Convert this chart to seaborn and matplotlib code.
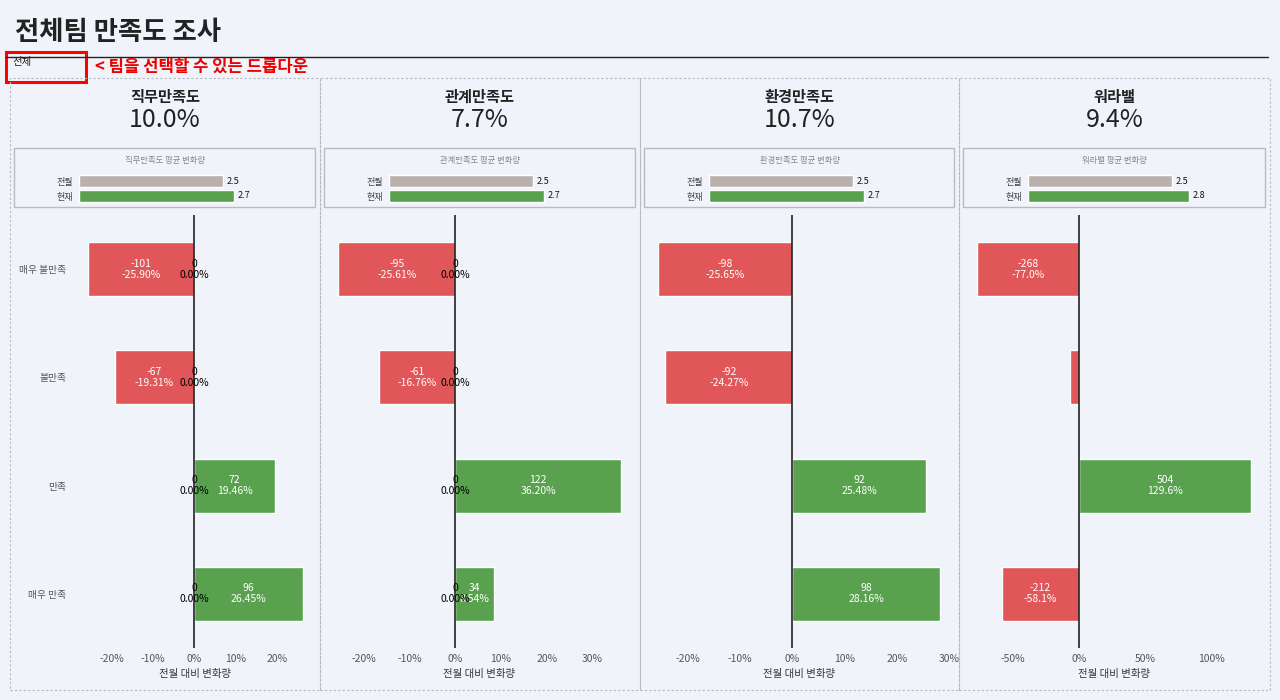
import matplotlib
matplotlib.use('Agg')
import matplotlib.pyplot as plt
import matplotlib.ticker as mticker
from matplotlib.patches import Rectangle
from matplotlib.lines import Line2D
import pandas as pd
import seaborn as sns

sns.set_style('white')
plt.rcParams['font.family'] = ['Noto Sans CJK KR', 'DejaVu Sans']
plt.rcParams['axes.unicode_minus'] = False

W, H = 1280, 700
bg = '#F0F4FA'
red = '#E15759'
green = '#59A14F'
gray = '#BAB0AC'

# Data
panel_titles = ['직무만족도', '관계만족도', '환경만족도', '워라밸']
panel_rates = [10.0, 7.7, 10.7, 9.4]
prev_avg = [2.5, 2.5, 2.5, 2.5]
cur_avg = [2.7, 2.7, 2.7, 2.8]
levels = ['매우 불만족', '불만족', '만족', '매우 만족']

job_cnt = [-101, -67, 72, 96]
job_pct = [-25.90, -19.31, 19.46, 26.45]
rel_cnt = [-95, -61, 122, 34]
rel_pct = [-25.61, -16.76, 36.20, 8.54]
env_cnt = [-98, -92, 92, 98]
env_pct = [-25.65, -24.27, 25.48, 28.16]
wlb_cnt = [-268, -24, 504, -212]
wlb_pct = [-77.0, -6.8, 129.6, -58.1]

counts = [job_cnt, rel_cnt, env_cnt, wlb_cnt]
pcts = [job_pct, rel_pct, env_pct, wlb_pct]
show_zero = [True, True, False, False]
pct_digits = [2, 2, 2, 1]
tick_step = [10, 10, 10, 50]


def fx(x):
    return x / W


def fy(y):
    return 1 - y / H


def box(l, t, r, b):
    return [l / W, 1 - b / H, (r - l) / W, (b - t) / H]


fig = plt.figure(figsize=(12.8, 7), dpi=100, facecolor=bg)

# header
fig.text(fx(15), fy(33), '전체팀 만족도 조사', fontsize=19, weight='bold', color='#222222', va='center')
fig.add_artist(Line2D([fx(6), fx(1268)], [fy(57), fy(57)], color='#222222', lw=1))
fig.add_artist(Rectangle((fx(6), fy(82)), 80 / W, 30 / H, transform=fig.transFigure,
                         fill=False, ec='#FF0000', lw=2.2))
fig.text(fx(12), fy(62), '전체', fontsize=7.5, color='#222222', va='center')
fig.text(fx(95), fy(67), '< 팀을 선택할 수 있는 드롭다운', fontsize=12, weight='bold',
         color='#EE0000', va='center')

panel_l = [10, 320, 640, 959]
panel_r = [320, 640, 959, 1270]

for k in range(4):
    pl, pr = panel_l[k], panel_r[k]
    cx = (pl + pr) / 2

    fig.add_artist(Rectangle((fx(pl), fy(690)), (pr - pl) / W, 612 / H, transform=fig.transFigure,
                             fill=False, ec='#B4B8C0', lw=0.8, ls=(0, (2, 2))))

    fig.text(fx(cx), fy(97), panel_titles[k], fontsize=11, weight='bold', color='#222222',
             ha='center', va='center')
    fig.text(fx(cx), fy(120), f'{panel_rates[k]:.1f}%', fontsize=18, weight='light',
             color='#222222', ha='center', va='center')

    # average change box
    fig.add_artist(Rectangle((fx(pl + 4), fy(207)), (pr - pl - 9) / W, 59 / H,
                             transform=fig.transFigure, fill=False, ec='#BBBBBB', lw=1))
    fig.text(fx(cx), fy(160), f'{panel_titles[k]} 평균 변화량', fontsize=6, color='#888888',
             ha='center', va='center', style='italic')

    sax = fig.add_axes(box(pl + 69, 173.5, pl + 69 + 230, 203.5))
    sax.set_facecolor('none')
    avg = pd.DataFrame({'when': ['전월', '현재'], 'val': [prev_avg[k], cur_avg[k]]})
    sns.barplot(data=avg, x='val', y='when', hue='when', palette=[gray, green], orient='h',
                width=0.75, saturation=1, legend=False, ax=sax)
    sax.set_xlim(0, 4)
    sax.set_xticks([])
    sax.set_xlabel('')
    sax.set_ylabel('')
    sax.tick_params(axis='y', length=0, labelsize=6.5, colors='#444444', pad=4)
    for s in sax.spines.values():
        s.set_visible(False)
    for i, v in enumerate(avg['val']):
        sax.text(v + 0.06, i, f'{v}', va='center', fontsize=6.5, color='#111111')

    # main diverging bars
    pct = pcts[k]
    cnt = counts[k]
    if k == 0:
        al, ar = 79, 312
    else:
        al, ar = pl + 7, pr - 8
    ax = fig.add_axes(box(al, 215, ar, 648))
    ax.set_facecolor('none')
    df = pd.DataFrame({'level': levels, 'pct': pct,
                       'sign': ['neg' if v < 0 else 'pos' for v in pct]})
    sns.barplot(data=df, x='pct', y='level', hue='sign', palette={'neg': red, 'pos': green},
                orient='h', width=0.5, dodge=False, saturation=1, legend=False, ax=ax)
    lo, hi = min(min(pct), 0), max(max(pct), 0)
    pad = 0.04 * (hi - lo)
    ax.set_xlim(lo - pad, hi + pad)
    ax.set_ylim(3.5, -0.5)
    ax.axvline(0, color='#222222', lw=1.2)
    for s in ax.spines.values():
        s.set_visible(False)
    ax.xaxis.set_major_locator(mticker.MultipleLocator(tick_step[k]))
    ax.xaxis.set_major_formatter(mticker.FuncFormatter(lambda v, _: f'{v:.0f}%'))
    ax.tick_params(axis='x', length=0, labelsize=7.5, colors='#555555', pad=4)
    ax.set_xlabel('전월 대비 변화량', fontsize=7.5, color='#333333', labelpad=4)
    ax.set_ylabel('')
    if k == 0:
        ax.tick_params(axis='y', length=0, labelsize=7, colors='#555555', pad=9)
    else:
        ax.tick_params(axis='y', length=0, labelleft=False)

    for i, (c, p) in enumerate(zip(cnt, pct)):
        if abs(p) >= 8:
            ax.text(p / 2, i, f'{c}\n{p:.{pct_digits[k]}f}%', ha='center', va='center',
                    color='white', fontsize=7.5, linespacing=1.15)
        if show_zero[k]:
            ax.text(0, i, '0\n0.00%', ha='center', va='center', color='black',
                    fontsize=7.5, linespacing=1.15)

fig.savefig('out.png', dpi=100, facecolor=bg)
